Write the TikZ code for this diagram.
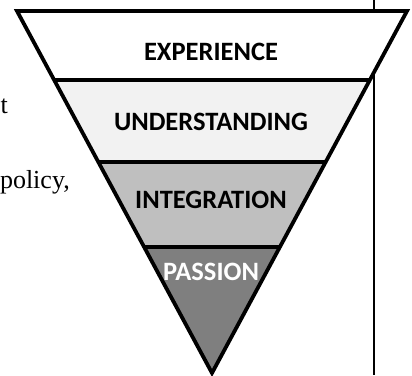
\documentclass[tikz,border=0pt]{standalone}
\usepackage{fontspec}
\setmainfont{Liberation Serif}
\newfontfamily\lblfont{Carlito}
\definecolor{bandA}{HTML}{FFFFFF}
\definecolor{bandB}{HTML}{F2F2F2}
\definecolor{bandC}{HTML}{BFBFBF}
\definecolor{bandD}{HTML}{7F7F7F}
\tikzset{
  lbl/.style={font=\lblfont\fontsize{26.5}{30}\selectfont\bfseries, inner sep=0pt, anchor=center},
  bodytext/.style={font=\fontsize{26}{30}\selectfont, inner sep=0pt},
  edge/.style={line width=3.8pt, line join=miter, miter limit=20},
  divider/.style={line width=3.3pt},
}
\begin{document}
\begin{tikzpicture}[x=1pt,y=-1pt]
\useasboundingbox (0,0) rectangle (412,375);
\clip (0,0) rectangle (412,375);
% background text fragments
\node[bodytext, anchor=base east] (t) at (8,113) {t};
\node[bodytext, anchor=base east] (policy) at (70,188) {policy,};
% vertical rule
\draw[line width=1.1pt] (374,0) -- (374,375);
% triangle corners
\coordinate (TL) at (17,11);
\coordinate (TR) at (407,11);
\coordinate (B) at (212,373);
% band boundaries
\coordinate (L1) at (54.2,80);  \coordinate (R1) at (369.8,80);
\coordinate (L2) at (98.3,162); \coordinate (R2) at (325.7,162);
\coordinate (L3) at (144,247);  \coordinate (R3) at (280,247);
\fill[bandA] (TL) -- (TR) -- (R1) -- (L1) -- cycle;
\fill[bandB] (L1) -- (R1) -- (R2) -- (L2) -- cycle;
\fill[bandC] (L2) -- (R2) -- (R3) -- (L3) -- cycle;
\fill[bandD] (L3) -- (R3) -- (B) -- cycle;
\draw[divider] (L1) -- (R1);
\draw[divider] (L2) -- (R2);
\draw[divider] (L3) -- (R3);
\draw[edge] (TL) -- (TR) -- (B) -- cycle;
% labels
\node[lbl] (exp) at (211,52) {EXPERIENCE};
\node[lbl] (und) at (211,122) {UNDERSTANDING};
\node[lbl] (int) at (211,200) {INTEGRATION};
\node[lbl, text=white] (pas) at (211,272) {PASSION};
\end{tikzpicture}
\end{document}
